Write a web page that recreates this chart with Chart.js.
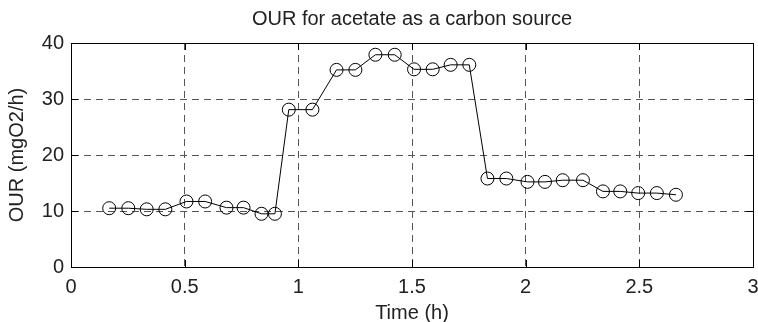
<!DOCTYPE html>
<html>
<head>
<meta charset="utf-8">
<script src="https://cdn.jsdelivr.net/npm/chart.js@4/dist/chart.umd.min.js"></script>
<style>
  html, body { margin: 0; padding: 0; background: #fff; overflow: hidden; }
  #wrap { width: 770px; height: 322px; }
</style>
</head>
<body>
<div id="wrap"><canvas id="chart1"></canvas></div>
<script>
// Time (h) and OUR (mgO2/h)
const timeH = [0.168, 0.252, 0.333, 0.415, 0.508, 0.590, 0.684, 0.759, 0.838, 0.897,
               0.958, 1.062, 1.168, 1.251, 1.339, 1.424, 1.509, 1.591, 1.670, 1.752,
               1.832, 1.915, 2.008, 2.085, 2.163, 2.252, 2.340, 2.416, 2.495, 2.577, 2.661];
const ourValues = [10.5, 10.5, 10.3, 10.3, 11.7, 11.7, 10.6, 10.6, 9.5, 9.5,
                   28.1, 28.1, 35.2, 35.2, 37.9, 37.9, 35.3, 35.3, 36.1, 36.1,
                   15.8, 15.8, 15.2, 15.2, 15.5, 15.5, 13.5, 13.5, 13.2, 13.2, 12.9];
const xTicks = [0, 0.5, 1, 1.5, 2, 2.5, 3];
const yTicks = [0, 10, 20, 30, 40];

const fontFamily = '"Liberation Sans", Arial, Helvetica, sans-serif';
const textColor = '#222';

// Box around the axes plus MATLAB-style inward tick marks
const boxPlugin = {
    id: 'boxPlugin',
    afterDatasetsDraw(chart) {
        const { ctx, chartArea: a, scales } = chart;
        const len = 7;
        ctx.save();
        ctx.strokeStyle = '#000';
        ctx.lineWidth = 1;
        ctx.setLineDash([]);
        ctx.beginPath();
        xTicks.forEach((v) => {
            const px = Math.round(scales.x.getPixelForValue(v)) + 0.5;
            ctx.moveTo(px, a.bottom); ctx.lineTo(px, a.bottom - len);
            ctx.moveTo(px, a.top); ctx.lineTo(px, a.top + len);
        });
        yTicks.forEach((v) => {
            const py = Math.round(scales.y.getPixelForValue(v)) + 0.5;
            ctx.moveTo(a.left, py); ctx.lineTo(a.left + len, py);
            ctx.moveTo(a.right, py); ctx.lineTo(a.right - len, py);
        });
        ctx.stroke();
        ctx.strokeRect(Math.round(a.left) + 0.5, Math.round(a.top) + 0.5,
            Math.round(a.right - a.left), Math.round(a.bottom - a.top));
        ctx.restore();
    }
};

new Chart(document.getElementById('chart1'), {
    type: 'scatter',
    data: {
        datasets: [{
            label: 'OUR',
            data: timeH.map((t, i) => ({ x: t, y: ourValues[i] })),
            showLine: true,
            borderColor: '#000',
            borderWidth: 1,
            pointStyle: 'circle',
            pointRadius: 6.5,
            pointHoverRadius: 6.5,
            pointBackgroundColor: 'rgba(0,0,0,0)',
            pointBorderColor: '#000',
            pointBorderWidth: 1
        }]
    },
    options: {
        responsive: true,
        maintainAspectRatio: false,
        animation: false,
        layout: { padding: { left: 0, right: 17, top: 0, bottom: 0 } },
        plugins: {
            legend: { display: false },
            tooltip: { enabled: false },
            title: {
                display: true,
                fullSize: false,
                text: 'OUR for acetate as a carbon source',
                color: textColor,
                font: { family: fontFamily, size: 20, weight: 'normal' },
                padding: { top: 7, bottom: 12 }
            }
        },
        scales: {
            x: {
                type: 'linear',
                min: 0,
                max: 3,
                afterFit: (scale) => { scale.height = 55; },
                afterBuildTicks: (scale) => { scale.ticks = xTicks.map((v) => ({ value: v })); },
                grid: { color: '#555', drawTicks: false },
                border: { display: true, color: '#000', dash: [7, 5] },
                ticks: {
                    color: textColor,
                    padding: 8,
                    font: { family: fontFamily, size: 20 },
                    callback: (v) => String(v)
                },
                title: {
                    display: true,
                    text: 'Time (h)',
                    color: textColor,
                    font: { family: fontFamily, size: 20 },
                    padding: { top: 0, bottom: -3 }
                }
            },
            y: {
                min: 0,
                max: 40,
                afterFit: (scale) => { scale.width = 71; },
                afterBuildTicks: (scale) => { scale.ticks = yTicks.map((v) => ({ value: v })); },
                grid: { color: '#555', drawTicks: false },
                border: { display: true, color: '#000', dash: [7, 5] },
                ticks: {
                    color: textColor,
                    padding: 7,
                    font: { family: fontFamily, size: 20 },
                    callback: (v) => String(v)
                },
                title: {
                    display: true,
                    text: 'OUR (mgO2/h)',
                    color: textColor,
                    font: { family: fontFamily, size: 20 },
                    padding: { top: 5, bottom: 0 }
                }
            }
        }
    },
    plugins: [boxPlugin]
});
</script>
</body>
</html>
